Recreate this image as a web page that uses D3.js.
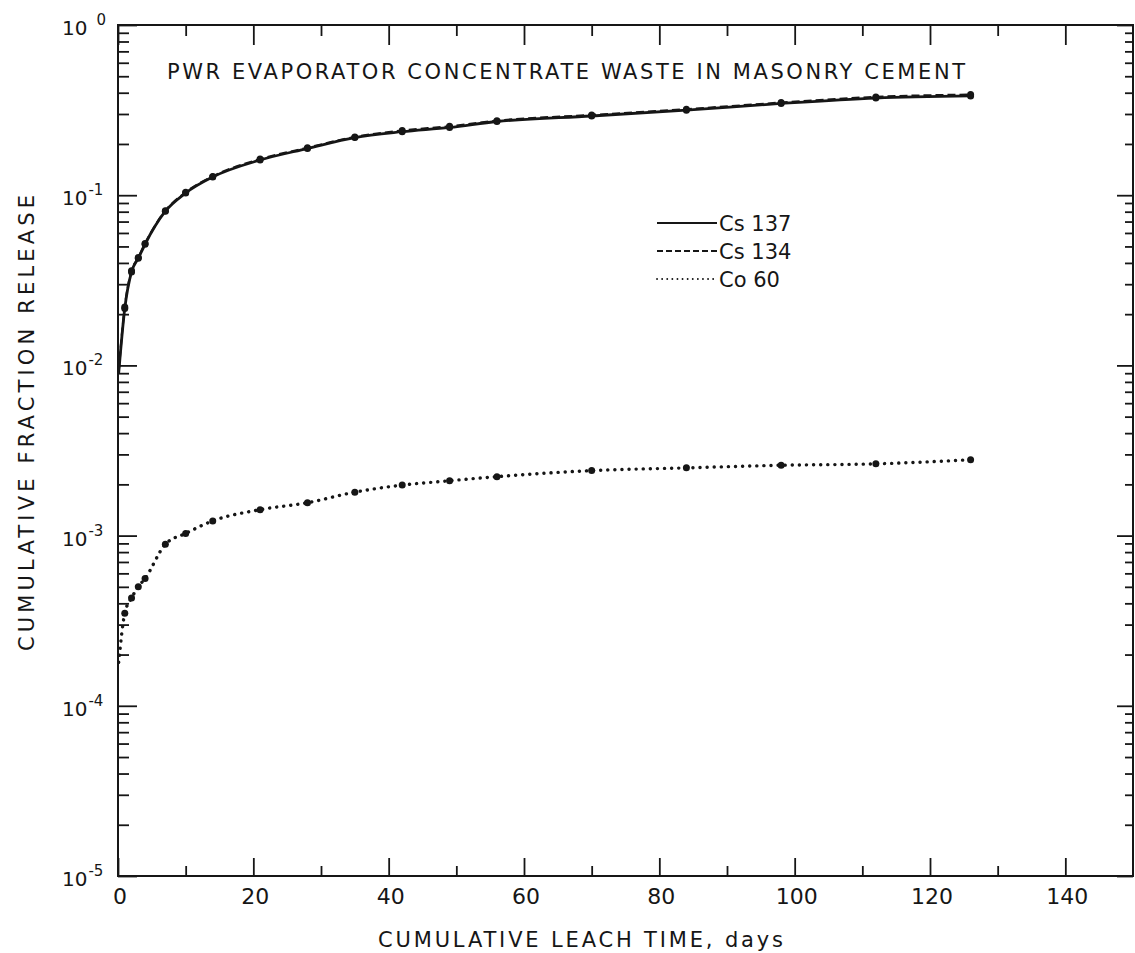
<!DOCTYPE html>
<html>
<head>
<meta charset="utf-8">
<script src="https://cdn.jsdelivr.net/npm/d3@7"></script>
<style>
	body { margin: 0; background: #fff; }
	svg text { font-family: "DejaVu Sans", "Liberation Sans", sans-serif; fill: #161616; }
</style>
</head>
<body>
<svg id="chart" width="1135" height="953"></svg>
<script>
// leach times (days) at which samples were counted
const days = [1, 2, 3, 4, 7, 10, 14, 21, 28, 35, 42, 49, 56, 70, 84, 98, 112, 126];

// cumulative fraction released
const cs137 = [0.0216, 0.0354, 0.0426, 0.0515, 0.0805, 0.103, 0.128, 0.161, 0.188, 0.218, 0.236, 0.25, 0.271, 0.292, 0.316, 0.346, 0.372, 0.383];
const cs134 = [0.022, 0.036, 0.043, 0.052, 0.081, 0.104, 0.129, 0.163, 0.19, 0.22, 0.24, 0.254, 0.274, 0.296, 0.32, 0.35, 0.378, 0.39];
const co60 = [3.5e-4, 4.3e-4, 5.0e-4, 5.6e-4, 8.9e-4, 1.03e-3, 1.22e-3, 1.42e-3, 1.56e-3, 1.8e-3, 1.98e-3, 2.1e-3, 2.22e-3, 2.41e-3, 2.5e-3, 2.59e-3, 2.64e-3, 2.79e-3];

// the hand drawn curves start right at the axis
const startDay = 0.1;
const cs137Start = 0.009;
const cs134Start = 0.0092;
const co60Start = 1.8e-4;

const xMajorTicks = [0, 20, 40, 60, 80, 100, 120, 140];
const xMinorTicks = [10, 30, 50, 70, 90, 110, 130];
const yDecades = [-5, -4, -3, -2, -1, 0];

const titleText = "PWR EVAPORATOR CONCENTRATE WASTE IN MASONRY CEMENT";
const xLabel = "CUMULATIVE LEACH TIME, days";
const yLabel = "CUMULATIVE FRACTION RELEASE";
const legendLabels = ["Cs 137", "Cs 134", "Co 60"];

const ink = "#161616";
const margin = { top: 25, right: 2, bottom: 77, left: 118 };
const W = 1135, H = 953;

const svg = d3.select("#chart");

const x = d3.scaleLinear().domain([0, 150]).range([margin.left, W - margin.right]);
const y = d3.scaleLog().domain([1e-5, 1]).range([H - margin.bottom, margin.top]);

const yMajor = yDecades.map((e) => Math.pow(10, e));
const yMinor = [];
yDecades.slice(0, -1).forEach((e) => {
	for (let m = 2; m <= 9; m++) yMinor.push(m * Math.pow(10, e));
});

// AXES (ticks point inward on all four sides)
function styleAxis(g) {
	g.select(".domain").remove();
	g.selectAll("line").attr("stroke", ink).attr("stroke-width", 1.8);
	g.selectAll("text").remove();
}

svg.append("g").attr("transform", `translate(0,${y.range()[0]})`)
	.call(d3.axisBottom(x).tickValues(xMajorTicks).tickSize(-18)).call(styleAxis);
svg.append("g").attr("transform", `translate(0,${y.range()[0]})`)
	.call(d3.axisBottom(x).tickValues(xMinorTicks).tickSize(-10)).call(styleAxis);
svg.append("g").attr("transform", `translate(0,${margin.top})`)
	.call(d3.axisTop(x).tickValues(xMajorTicks).tickSize(-20)).call(styleAxis);
svg.append("g").attr("transform", `translate(0,${margin.top})`)
	.call(d3.axisTop(x).tickValues(xMinorTicks).tickSize(-11)).call(styleAxis);

svg.append("g").attr("transform", `translate(${margin.left},0)`)
	.call(d3.axisLeft(y).tickValues(yMajor).tickSize(-19)).call(styleAxis);
svg.append("g").attr("transform", `translate(${margin.left},0)`)
	.call(d3.axisLeft(y).tickValues(yMinor).tickSize(-11)).call(styleAxis);
svg.append("g").attr("transform", `translate(${W - margin.right},0)`)
	.call(d3.axisRight(y).tickValues(yMajor).tickSize(-16)).call(styleAxis);
svg.append("g").attr("transform", `translate(${W - margin.right},0)`)
	.call(d3.axisRight(y).tickValues(yMinor).tickSize(-8)).call(styleAxis);

// frame
svg.append("rect")
	.attr("x", x.range()[0]).attr("y", y.range()[1])
	.attr("width", x.range()[1] - x.range()[0])
	.attr("height", y.range()[0] - y.range()[1])
	.attr("fill", "none").attr("stroke", ink).attr("stroke-width", 2);

// tick labels
svg.append("g").selectAll("text").data(xMajorTicks).join("text")
	.attr("x", (d) => x(d) + 2).attr("y", y.range()[0] + 28)
	.attr("text-anchor", "middle").attr("font-size", 22)
	.text((d) => d);

const yLab = svg.append("g").selectAll("text").data(yDecades).join("text")
	.attr("x", 62).attr("y", (d) => y(Math.pow(10, d)) + 10)
	.attr("font-size", 20);
yLab.append("tspan").text("10");
yLab.append("tspan")
	.attr("font-size", 15).attr("dy", -10).attr("dx", (d) => (d === 0 ? 9 : 1))
	.text((d) => (d === 0 ? "0" : "-" + Math.abs(d)));

// titles
svg.append("text").attr("x", 167).attr("y", 79)
	.attr("font-size", 21).attr("textLength", 798).attr("lengthAdjust", "spacing")
	.text(titleText);
svg.append("text").attr("x", 378).attr("y", 947)
	.attr("font-size", 21).attr("textLength", 405).attr("lengthAdjust", "spacing")
	.text(xLabel);
svg.append("text").attr("transform", "translate(34,651) rotate(-90)")
	.attr("font-size", 21).attr("textLength", 456).attr("lengthAdjust", "spacing")
	.text(yLabel);

// SERIES
const series = [
	{ values: cs137, start: cs137Start, dash: null, width: 2.8, cap: "butt" },
	{ values: cs134, start: cs134Start, dash: "8,4", width: 2.2, cap: "butt" },
	{ values: co60, start: co60Start, dash: "0.1,7", width: 3.4, cap: "round" },
];

const line = d3.line()
	.x((d) => x(d[0]))
	.y((d) => y(d[1]))
	.curve(d3.curveMonotoneX);

series.forEach((s) => {
	const pts = [[startDay, s.start]].concat(days.map((d, i) => [d, s.values[i]]));
	svg.append("path")
		.attr("d", line(pts))
		.attr("fill", "none")
		.attr("stroke", ink)
		.attr("stroke-width", s.width)
		.attr("stroke-linecap", s.cap)
		.attr("stroke-dasharray", s.dash);
	svg.append("g").selectAll("circle").data(days).join("circle")
		.attr("cx", (d) => x(d))
		.attr("cy", (d, i) => y(s.values[i]))
		.attr("r", 3.5)
		.attr("fill", ink);
});

// LEGEND
const legend = svg.append("g").attr("transform", "translate(657,223)");
legendLabels.forEach((label, i) => {
	const s = series[i];
	legend.append("line")
		.attr("x1", 0).attr("x2", 60).attr("y1", i * 28).attr("y2", i * 28)
		.attr("stroke", ink).attr("stroke-width", s.dash ? 1.8 : 2)
		.attr("stroke-linecap", s.cap)
		.attr("stroke-dasharray", s.dash ? (s.cap === "round" ? "0.1,5" : "6,3") : null);
	legend.append("text")
		.attr("x", 62).attr("y", i * 28 + 8)
		.attr("font-size", 21)
		.text(label);
});
</script>
</body>
</html>
